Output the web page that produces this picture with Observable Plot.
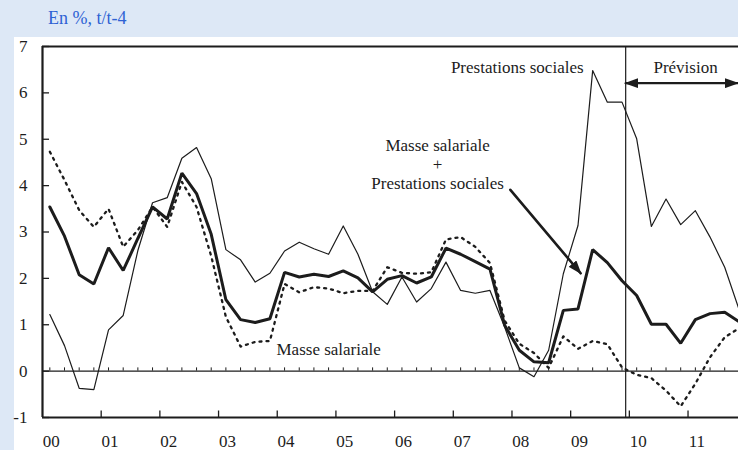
<!DOCTYPE html>
<html>
<head>
<meta charset="utf-8">
<script src="https://cdn.jsdelivr.net/npm/d3@7"></script>
<script src="https://cdn.jsdelivr.net/npm/@observablehq/plot@0.6"></script>
<style>
  html, body { margin: 0; padding: 0; background: #dde8f6; width: 738px; height: 450px; overflow: hidden; }
  #title { height: 37px; line-height: 36px; padding-left: 48px; font-family: 'Liberation Serif', 'Times New Roman', Times, serif; font-size: 18px; color: #2e62d4; }
  #chart { margin-left: 14px; background: #ffffff; width: 724px; height: 413px; }
  #chart svg { display: block; }
  #chart svg text { font-family: 'Liberation Serif', 'Times New Roman', Times, serif; }
</style>
</head>
<body>
<div id="title">En %, t/t-4</div>
<div id="chart"></div>
<script>
// Quarterly data, 2000Q1 .. 2011Q4 (year-on-year growth, %)
const yearLabels = ["00","01","02","03","04","05","06","07","08","09","10","11"];

const prestationsSociales = [
  1.22, 0.55, -0.37, -0.40, 0.89, 1.20, 2.60, 3.63, 3.74, 4.59, 4.82, 4.15,
  2.62, 2.40, 1.92, 2.11, 2.59, 2.78, 2.64, 2.52, 3.13, 2.52, 1.71, 1.44,
  2.03, 1.49, 1.78, 2.35, 1.74, 1.68, 1.74, 0.95, 0.07, -0.12, 0.45, 2.10,
  3.14, 6.48, 5.80, 5.80, 5.01, 3.12, 3.71, 3.16, 3.46, 2.89, 2.24, 1.31
];
const masseSalariale = [
  4.73, 4.12, 3.47, 3.11, 3.50, 2.68, 3.04, 3.54, 3.11, 4.08, 3.54, 2.48,
  1.17, 0.53, 0.63, 0.65, 1.88, 1.70, 1.81, 1.78, 1.68, 1.73, 1.73, 2.24,
  2.12, 2.10, 2.13, 2.84, 2.89, 2.68, 2.33, 1.09, 0.59, 0.39, 0.07, 0.75,
  0.48, 0.65, 0.58, 0.08, -0.08, -0.15, -0.42, -0.76, -0.27, 0.30, 0.73, 0.93
];
const masseEtPrestations = [
  3.54, 2.91, 2.08, 1.88, 2.66, 2.17, 2.86, 3.54, 3.28, 4.27, 3.83, 2.95,
  1.54, 1.11, 1.05, 1.13, 2.13, 2.03, 2.09, 2.04, 2.16, 2.01, 1.71, 1.98,
  2.06, 1.90, 2.03, 2.65, 2.52, 2.36, 2.20, 0.99, 0.45, 0.20, 0.18, 1.31,
  1.34, 2.62, 2.34, 1.95, 1.63, 1.01, 1.01, 0.60, 1.11, 1.24, 1.27, 1.06
];
const yTicks = [-1, 0, 1, 2, 3, 4, 5, 6, 7];
const previsionStart = 39.25; // between 2009Q4 and 2010Q1 (quarter index)

// annotation anchors in data units (quarter index, %)
const labelPrestations = [{x: 36.38, y: 6.55, text: "Prestations sociales"}];
const labelCombined = [{x: 26.43, y: 4.47, text: "Masse salariale\n+\nPrestations sociales"}];
const labelMasse = [{x: 15.45, y: 0.47, text: "Masse salariale"}];
const labelPrevision = [{x: 43.33, y: 6.55, text: "Prévision"}];
const arrowCombined = [{x: 31.39, y: 3.91}, {x: 36.18, y: 2.11}];
const arrowPrevision = [{x: previsionStart, y: 6.21}, {x: 46.88, y: 6.21}];

const rows = prestationsSociales.map((v, i) => ({
  q: i, prest: v, masse: masseSalariale[i], total: masseEtPrestations[i]
}));
const yearTicks = yearLabels.slice(1).map((_, k) => (k + 1) * 4 - 0.5);
const yearText = yearLabels.map((t, k) => ({q: k * 4, t}));

const ink = "#1c1c1c";
const font = "'Liberation Serif', 'Times New Roman', Times, serif";

const chart = Plot.plot({
  width: 724,
  height: 413,
  marginLeft: 28,
  marginRight: 0,
  marginTop: 9,
  marginBottom: 33,
  x: {domain: [-0.5, 46.94], axis: null},
  y: {domain: [-1, 7], axis: null},
  style: {background: "white", fontFamily: font, fontSize: "17px", color: ink, overflow: "visible"},
  marks: [
    // zero line with quarterly minor ticks
    Plot.ruleY([0], {stroke: ink, strokeWidth: 1.1}),
    Plot.ruleX(rows, {x: "q", y1: 0, y2: 0.07, stroke: ink, strokeWidth: 1}),
    // frame
    Plot.ruleX([-0.5], {stroke: ink, strokeWidth: 2.2}),
    Plot.ruleY([-1], {stroke: ink, strokeWidth: 2.2}),
    Plot.ruleY([7], {stroke: ink, strokeWidth: 2}),
    // y ticks (inward) and labels
    Plot.ruleY(yTicks, {y: d => d, x1: -0.5, x2: -0.02, stroke: ink, strokeWidth: 1.3}),
    Plot.text(yTicks, {x: -0.5, y: d => d, text: d => String(d), textAnchor: "end", dx: -15, fill: ink, fontSize: 17, fontFamily: font}),
    // x ticks (inward) and labels
    Plot.ruleX(yearTicks, {x: d => d, y1: -1, y2: -0.86, stroke: ink, strokeWidth: 1.3}),
    Plot.text(yearText, {x: "q", y: -1, text: "t", dy: 24, dx: 1.5, fill: ink, fontSize: 17, fontFamily: font}),
    // forecast separator
    Plot.ruleX([previsionStart], {stroke: ink, strokeWidth: 1.2}),
    // series
    Plot.line(rows, {x: "q", y: "prest", stroke: ink, strokeWidth: 1.2}),
    Plot.line(rows, {x: "q", y: "masse", stroke: ink, strokeWidth: 2.3, strokeDasharray: "2,5"}),
    Plot.line(rows, {x: "q", y: "total", stroke: ink, strokeWidth: 3, strokeLinejoin: "miter"}),
    // annotations
    Plot.text(labelPrestations, {x: "x", y: "y", text: "text", textAnchor: "end", fill: ink, fontFamily: font}),
    Plot.text(labelCombined, {x: "x", y: "y", text: "text", textAnchor: "middle", lineHeight: 1.12, fill: ink, fontFamily: font}),
    Plot.text(labelMasse, {x: "x", y: "y", text: "text", textAnchor: "start", fill: ink, fontFamily: font}),
    Plot.text(labelPrevision, {x: "x", y: "y", text: "text", textAnchor: "middle", fill: ink, fontFamily: font}),
    Plot.line(arrowCombined, {x: "x", y: "y", stroke: ink, strokeWidth: 2.6}),
    Plot.line(arrowPrevision, {x: "x", y: "y", stroke: ink, strokeWidth: 2.2})
  ]
});

// filled arrowheads on the two annotation arrows (the last two line marks)
const svg = d3.select(chart);
const defs = svg.insert("defs", ":first-child");
defs.append("marker")
  .attr("id", "ahead")
  .attr("viewBox", "0 0 10 10")
  .attr("refX", 9)
  .attr("refY", 5)
  .attr("markerWidth", 14)
  .attr("markerHeight", 10)
  .attr("markerUnits", "userSpaceOnUse")
  .attr("preserveAspectRatio", "none")
  .attr("orient", "auto-start-reverse")
  .append("path")
  .attr("d", "M0,0L10,5L0,10z")
  .attr("fill", ink);
const lineGroups = svg.selectAll('g[aria-label="line"]').nodes();
const nG = lineGroups.length;
if (nG >= 2) {
  d3.select(lineGroups[nG - 2]).selectAll("path").attr("marker-end", "url(#ahead)");
  d3.select(lineGroups[nG - 1]).selectAll("path")
    .attr("marker-start", "url(#ahead)")
    .attr("marker-end", "url(#ahead)");
}

document.getElementById("chart").appendChild(chart);
</script>
</body>
</html>
